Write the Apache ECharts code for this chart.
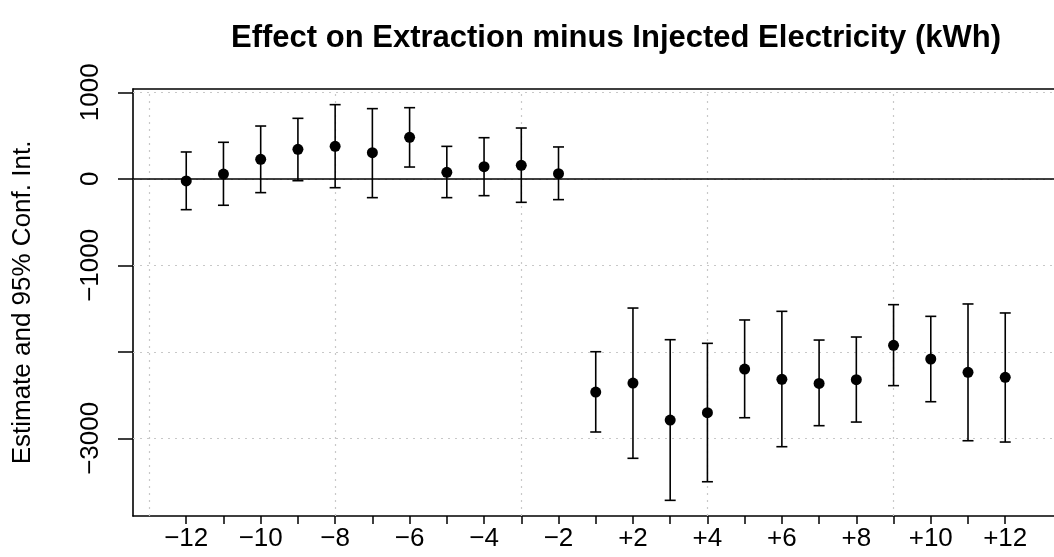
<!DOCTYPE html>
<html>
<head>
<meta charset="utf-8">
<script src="https://cdn.jsdelivr.net/npm/echarts@6/dist/echarts.min.js"></script>
<style>
html, body { margin: 0; padding: 0; background: #ffffff; }
#chart { width: 1054px; height: 557px; }
</style>
</head>
<body>
<div id="chart"></div>
<script>
// ---- data ----
const periods = ['\u221212','\u221211','\u221210','\u22129','\u22128','\u22127','\u22126','\u22125','\u22124','\u22123','\u22122',
                 '+1','+2','+3','+4','+5','+6','+7','+8','+9','+10','+11','+12'];
const estimates = [-25, 55, 225, 341, 375, 302, 480, 75, 140, 156, 59,
                   -2465, -2361, -2789, -2704, -2199, -2318, -2365, -2322, -1925, -2083, -2237, -2295];
const upper = [310, 422, 610, 699, 857, 811, 822, 375, 475, 587, 368,
               -1999, -1494, -1860, -1902, -1632, -1532, -1864, -1829, -1455, -1590, -1447, -1551];
const lower = [-357, -306, -160, -22, -103, -218, 136, -218, -195, -272, -241,
               -2927, -3231, -3717, -3502, -2762, -3097, -2854, -2812, -2391, -2577, -3028, -3043];
const xTickLabels = ['\u221212','\u221210','\u22128','\u22126','\u22124','\u22122','+2','+4','+6','+8','+10','+12'];
const yTickValues = [1000, 0, -1000, -2000, -3000];
const yLabelValues = [1000, 0, -1000, -3000];
const xGridValues = [0, 5, 10, 15, 20];

const title = 'Effect on Extraction minus Injected Electricity (kWh)';
const yTitle = 'Estimate and 95% Conf. Int.';

// ---- build ----
const xPos = periods.map((p, i) => i + 1);
const labelPos = xTickLabels.map(l => periods.indexOf(l) + 1);
const pointData = periods.map((p, i) => [xPos[i], estimates[i]]);
const barData = periods.map((p, i) => [xPos[i], lower[i], upper[i]]);

const FONT = 'Liberation Sans, Arial, Helvetica, sans-serif';
const chart = echarts.init(document.getElementById('chart'), null, { renderer: 'canvas' });

const option = {
  animation: false,
  backgroundColor: '#ffffff',
  title: {
    text: title,
    left: 611,
    top: 18,
    textAlign: 'center',
    textStyle: { fontFamily: FONT, fontSize: 31, fontWeight: 'bold', color: '#000', lineHeight: 31 }
  },
  grid: { left: 133, right: 0, top: 89, bottom: 41, containLabel: false },
  xAxis: [{
    type: 'value',
    min: -0.43,
    max: 24.31,
    position: 'bottom',
    splitLine: { show: false },
    axisLine: { show: true, onZero: false, lineStyle: { color: '#000', width: 1.6 } },
    axisTick: { show: true, customValues: xPos, length: 8, lineStyle: { color: '#000', width: 1.5 } },
    axisLabel: {
      show: true,
      customValues: labelPos,
      formatter: v => periods[Math.round(v) - 1] || '',
      margin: 10,
      fontFamily: FONT, fontSize: 26, color: '#000', lineHeight: 26
    }
  }, {
    type: 'value',
    min: -0.43,
    max: 24.31,
    position: 'top',
    splitLine: { show: false },
    axisLine: { show: true, onZero: false, lineStyle: { color: '#000', width: 1.6 } },
    axisTick: { show: false },
    axisLabel: { show: false }
  }],
  yAxis: {
    type: 'value',
    min: -3898,
    max: 1038,
    splitLine: { show: false },
    axisLine: { show: true, onZero: false, lineStyle: { color: '#000', width: 1.6 } },
    axisTick: { show: true, customValues: yTickValues, length: 15, lineStyle: { color: '#000', width: 1.5 } },
    axisLabel: {
      show: true,
      customValues: yLabelValues,
      rotate: 90,
      margin: 29,
      formatter: v => String(v).replace('-', '\u2212'),
      fontFamily: FONT, fontSize: 26, color: '#000', lineHeight: 26
    },
    name: yTitle,
    nameLocation: 'middle',
    nameRotate: 90,
    nameGap: 97,
    nameTextStyle: { fontFamily: FONT, fontSize: 26, color: '#000', lineHeight: 26 }
  },
  series: [
    {
      type: 'line',
      data: [],
      z: 1,
      silent: true,
      markLine: {
        z: 1,
        silent: true,
        symbol: 'none',
        label: { show: false },
        lineStyle: { color: '#c8c8c8', type: [2, 5], width: 1.2 },
        data: yTickValues.map(v => ({ yAxis: v })).concat(xGridValues.map(v => ({ xAxis: v })))
      }
    },
    {
      type: 'line',
      data: [],
      z: 2,
      silent: true,
      markLine: {
        z: 2,
        silent: true,
        symbol: 'none',
        label: { show: false },
        lineStyle: { color: '#000', type: 'solid', width: 1.6 },
        data: [{ yAxis: 0 }]
      }
    },
    {
      type: 'custom',
      z: 3,
      data: barData,
      renderItem: function (params, api) {
        const x = api.value(0);
        const lo = api.coord([x, api.value(1)]);
        const hi = api.coord([x, api.value(2)]);
        const cap = 5.5;
        const style = { stroke: '#000', lineWidth: 1.6 };
        return {
          type: 'group',
          children: [
            { type: 'line', shape: { x1: lo[0], y1: lo[1], x2: hi[0], y2: hi[1] }, style: style },
            { type: 'line', shape: { x1: lo[0] - cap, y1: lo[1], x2: lo[0] + cap, y2: lo[1] }, style: style },
            { type: 'line', shape: { x1: hi[0] - cap, y1: hi[1], x2: hi[0] + cap, y2: hi[1] }, style: style }
          ]
        };
      }
    },
    {
      type: 'scatter',
      z: 4,
      data: pointData,
      symbol: 'circle',
      symbolSize: 11,
      itemStyle: { color: '#000', opacity: 1 }
    }
  ]
};
chart.setOption(option);
</script>
</body>
</html>
